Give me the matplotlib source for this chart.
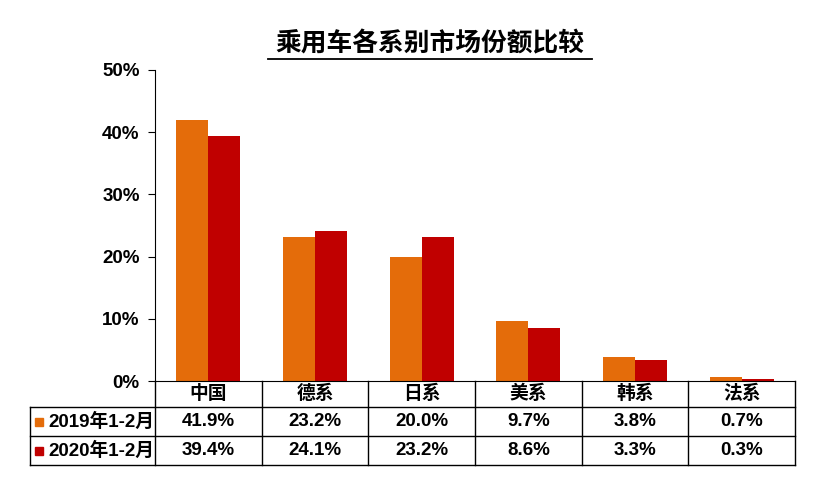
import matplotlib
matplotlib.use("Agg")
import matplotlib.pyplot as plt
from matplotlib.patches import Rectangle
import numpy as np

plt.rcParams['font.family'] = ['Liberation Sans', 'Noto Sans CJK SC', 'DejaVu Sans']
plt.rcParams['font.weight'] = 'bold'

categories = ['中国', '德系', '日系', '美系', '韩系', '法系']
series_names = ['2019年1-2月', '2020年1-2月']
v2019 = [41.9, 23.2, 20.0, 9.7, 3.8, 0.7]
v2020 = [39.4, 24.1, 23.2, 8.6, 3.3, 0.3]
colors = ['#E46C0A', '#C00000']
yticks = [0, 10, 20, 30, 40, 50]
title = '乘用车各系别市场份额比较'

W, H = 820, 478
fig = plt.figure(figsize=(W/100, H/100), dpi=100)
L, R, B, T = 155, 795, 381, 70
ax = fig.add_axes([L/W, 1-B/H, (R-L)/W, (B-T)/H])
n = len(categories)
x = np.arange(n)
bw = 0.3
ax.bar(x - bw/2, v2019, bw, color=colors[0])
ax.bar(x + bw/2, v2020, bw, color=colors[1])
ax.set_xlim(-0.5, n-0.5)
ax.set_ylim(0, 50)
ax.set_yticks(yticks)
ax.set_yticklabels([f'{t}%' for t in yticks], fontsize=13.5, fontweight='bold')
ax.set_xticks([])
for s in ['top', 'right']:
    ax.spines[s].set_visible(False)
ax.spines['left'].set_color('black')
ax.spines['bottom'].set_color('black')
ax.tick_params(axis='y', direction='out', length=5, pad=6)

# title
fig.text(430/W, 1-44/H, title, ha='center', va='center', fontsize=18.5, fontweight='bold')
fig.add_artist(plt.Line2D([268/W, 592/W], [1-59/H, 1-59/H], color='black', lw=1.3))

# data table in pixel coords
def ln(x0, y0, x1, y1):
    fig.add_artist(plt.Line2D([x0/W, x1/W], [1-y0/H, 1-y1/H], color='black', lw=1))
rows = [381, 407, 436, 465]
cw = (R-L)/n
for k in range(n+1):
    ln(L+k*cw, 381, L+k*cw, 465)
ln(30, 407, R, 407); ln(30, 436, R, 436); ln(30, 465, R, 465)
ln(30, 407, 30, 465)
fs = 13.5
for k, c in enumerate(categories):
    fig.text((L+(k+0.5)*cw)/W, 1-394/H, c, ha='center', va='center', fontsize=fs, fontweight='bold')
for r, (name, vals) in enumerate(zip(series_names, [v2019, v2020])):
    yc = (rows[r+1]+rows[r+2])/2
    fig.add_artist(Rectangle((35/W, 1-(yc+4)/H), 8/W, 8/H, color=colors[r], transform=fig.transFigure))
    fig.text(48/W, 1-yc/H, name, ha='left', va='center', fontsize=fs, fontweight='bold')
    for k, v in enumerate(vals):
        fig.text((L+(k+0.5)*cw)/W, 1-yc/H, f'{v:.1f}%', ha='center', va='center', fontsize=fs, fontweight='bold')

fig.savefig('out.png', dpi=100)
